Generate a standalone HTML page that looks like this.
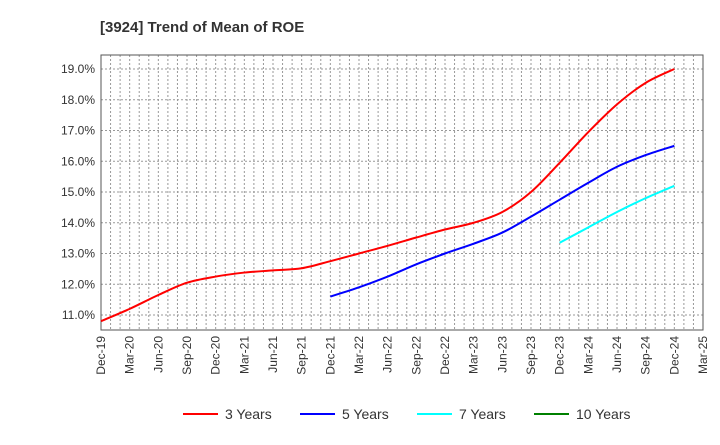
<!DOCTYPE html>
<html><head><meta charset="utf-8"><style>
body{margin:0;background:#fff;font-family:"Liberation Sans",sans-serif}
</style></head><body>
<svg id="c" width="720" height="440" xmlns="http://www.w3.org/2000/svg">
<text x="100" y="32" font-size="15" font-weight="bold" fill="#333">[3924]  Trend of Mean of ROE</text>
</svg>
<script>
const categories=["Dec-19","Mar-20","Jun-20","Sep-20","Dec-20","Mar-21","Jun-21","Sep-21","Dec-21","Mar-22","Jun-22","Sep-22","Dec-22","Mar-23","Jun-23","Sep-23","Dec-23","Mar-24","Jun-24","Sep-24","Dec-24","Mar-25"];
const yTicks=[11,12,13,14,15,16,17,18,19];
const series3=[10.8,11.2,11.65,12.05,12.25,12.38,12.45,12.52,12.75,13.0,13.25,13.52,13.78,14.0,14.35,15.0,15.95,16.95,17.85,18.55,19.0];
const series5=[11.6,11.9,12.25,12.65,13.0,13.32,13.68,14.2,14.75,15.3,15.82,16.2,16.5];
const series7=[13.35,13.85,14.35,14.8,15.2];
const series10=[];
const start5=8,start7=16,start10=20;
const NS="http://www.w3.org/2000/svg";
const svg=document.getElementById('c');
const L=101,R=703,T=55,B=330;
const x=i=>L+(R-L)*i/(categories.length-1);
const y=v=>315-(v-11)*(315-69)/8;
function el(t,a){const e=document.createElementNS(NS,t);for(const k in a)e.setAttribute(k,a[k]);svg.appendChild(e);return e;}
// grid monthly
for(let m=0;m<=63;m++){const g=el('line',{x1:x(m/3),x2:x(m/3),y1:T,y2:B,stroke:'#999','stroke-dasharray':'2,2','stroke-width':1});

}
for(const v of yTicks){const g=el('line',{x1:L,x2:R,y1:y(v),y2:y(v),stroke:'#999','stroke-dasharray':'2,2','stroke-width':1});


const t=el('text',{x:L-6,y:y(v)+4,'text-anchor':'end','font-size':12,fill:'#333'});t.textContent=v.toFixed(1)+'%';

}
const fr=el('rect',{x:L,y:T,width:R-L,height:B-T,fill:'none',stroke:'#555','stroke-width':1});


categories.forEach((c,i)=>{const t=el('text',{transform:`translate(${x(i)+4},${B+6}) rotate(-90)`,'text-anchor':'end','font-size':12,fill:'#333'});t.textContent=c;

});
function path(vals,s){const p=vals.map((v,i)=>[x(s+i),y(v)]);if(!p.length)return '';let d=`M${p[0][0]},${p[0][1]}`;
for(let i=0;i<p.length-1;i++){const p0=p[i-1]||p[i],p1=p[i],p2=p[i+1],p3=p[i+2]||p2;
d+=` C${p1[0]+(p2[0]-p0[0])/6},${p1[1]+(p2[1]-p0[1])/6} ${p2[0]-(p3[0]-p1[0])/6},${p2[1]-(p3[1]-p1[1])/6} ${p2[0]},${p2[1]}`;}return d;}
[[series3,0,'#ff0000','line-3-years'],[series5,start5,'#0000ff','line-5-years'],[series7,start7,'#00ffff','line-7-years'],[series10,start10,'#008000','line-10-years']].forEach(([v,s,c,n])=>{if(!v.length)return;const p=el('path',{d:path(v,s),fill:'none',stroke:c,'stroke-width':2});

});
[['3 Years','#ff0000',183],['5 Years','#0000ff',300],['7 Years','#00ffff',417],['10 Years','#008000',534]].forEach(([n,c,lx])=>{
const l=el('line',{x1:lx,x2:lx+35,y1:414,y2:414,stroke:c,'stroke-width':2});


const t=el('text',{x:lx+42,y:419,'font-size':14,fill:'#333'});t.textContent=n;

});
</script>
</body></html>
